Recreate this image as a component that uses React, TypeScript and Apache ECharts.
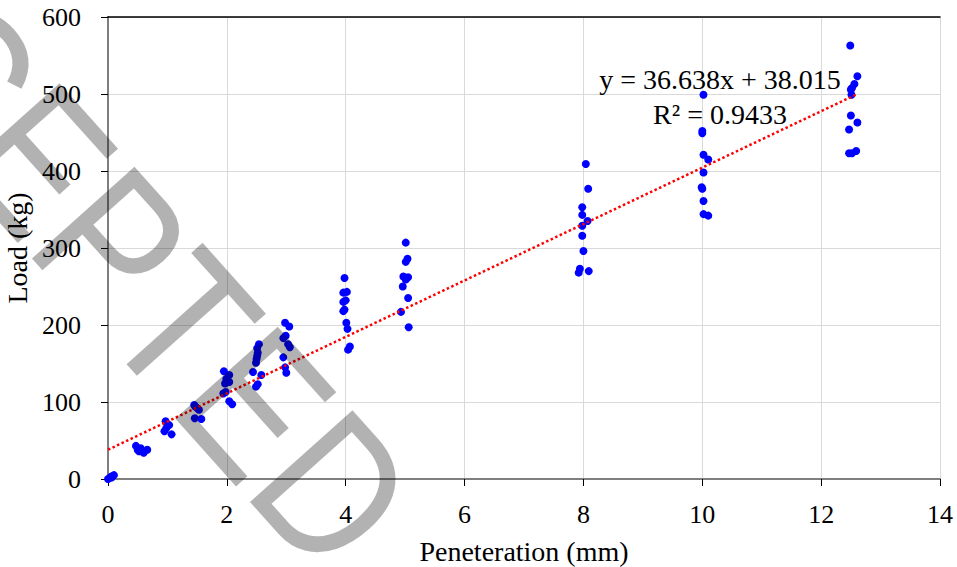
import React, { useEffect, useRef } from "react";
import * as echarts from "echarts";

// Penetration (mm) and load (kg) readings
const penetration = [
  0, 0.03, 0.05, 0.08, 0.1, 0.06,
  0.47, 0.5, 0.55, 0.6, 0.66, 0.52,
  0.97, 1.0, 0.98, 0.95, 1.07, 1.03,
  1.45, 1.5, 1.47, 1.53, 1.46, 1.57,
  1.95, 2.04, 1.99, 2.04, 1.97, 1.98, 1.94, 2.04, 2.09,
  2.54, 2.51, 2.52, 2.51, 2.5, 2.49, 2.44, 2.58, 2.52, 2.49,
  2.98, 3.05, 2.99, 2.95, 3.03, 3.06, 2.95, 2.98, 3.0,
  3.98, 3.96, 4.02, 3.96, 4.0, 3.96, 3.98, 4.01, 4.03, 4.07, 4.04,
  5.01, 5.04, 5.01, 4.97, 5.05, 5.01, 4.96, 5.05, 4.93, 5.06,
  8.04, 8.08, 7.98, 7.98, 8.07, 7.98, 7.98, 8.0, 7.94, 7.92, 8.09,
  10.02, 10.0, 10.0, 10.02, 10.1, 10.02, 9.99, 10.0, 10.02, 10.02, 10.1,
  12.49, 12.61, 12.56, 12.5, 12.52, 12.51, 12.5, 12.61, 12.47, 12.47, 12.59, 12.52,
];
const load = [
  0, 1.5, 3, 4, 5, 2,
  43, 38, 40, 34, 38, 36,
  75, 71, 66, 62, 58, 70,
  96, 92, 94, 90, 79, 78,
  140, 135, 130, 126, 124, 113, 111, 101, 97,
  175, 170, 164, 160, 156, 151, 139, 135, 123, 120,
  203, 198, 186, 183, 175, 171, 158, 145, 138,
  261, 242, 243, 230, 232, 218, 220, 203, 195, 172, 168,
  307, 286, 282, 263, 262, 259, 250, 235, 217, 197,
  409, 377, 353, 343, 335, 329, 316, 296, 273, 268, 270,
  499, 452, 449, 421, 415, 398, 379, 377, 361, 344, 342,
  563, 523, 513, 506, 508, 499, 472, 463, 454, 423, 426, 423,
];

// Linear trendline fitted in the reference
const trendSlope = 36.638;
const trendIntercept = 38.015;
const rSquared = 0.9433;
const trendRange = [0, 12.61];

const xTicks = { min: 0, max: 14, interval: 2 };
const yTicks = { min: 0, max: 600, interval: 100 };

const xTitle = "Peneteration (mm)";
const yTitle = "Load (kg)";
const watermark = "ACCEPTED";

const serif = "Liberation Serif";

export default function App() {
  const ref = useRef<HTMLDivElement>(null);

  useEffect(() => {
    if (!ref.current) return;
    const chart = echarts.init(ref.current, undefined, { renderer: "svg" });

    const points = penetration.map((x, i) => [x, load[i]]);
    const trend = trendRange.map((x) => [x, trendSlope * x + trendIntercept]);

    const eqText = `y = ${trendSlope}x + ${trendIntercept}`;
    const r2Text = `R² = ${rSquared}`;

    chart.setOption({
      animation: false,
      backgroundColor: "#ffffff",
      textStyle: { fontFamily: serif },
      grid: {
        left: 108,
        right: 17,
        top: 17,
        bottom: 88,
        containLabel: false,
        outerBoundsMode: "none",
      },
      xAxis: [
        {
          type: "value",
          min: xTicks.min,
          max: xTicks.max,
          interval: xTicks.interval,
          name: xTitle,
          nameLocation: "middle",
          nameGap: 58,
          nameTextStyle: { fontFamily: serif, fontSize: 28, color: "#000" },
          axisLine: { show: true, onZero: false, lineStyle: { color: "#7f7f7f", width: 2 } },
          axisTick: { show: true, length: 7, lineStyle: { color: "#000", width: 1 } },
          axisLabel: { fontFamily: serif, fontSize: 26, color: "#000", margin: 22 },
          splitLine: { show: true, lineStyle: { color: "#d9d9d9", width: 1 } },
        },
        {
          type: "value",
          position: "top",
          min: xTicks.min,
          max: xTicks.max,
          interval: xTicks.interval,
          axisLine: { show: true, onZero: false, lineStyle: { color: "#000", width: 1.5 } },
          axisTick: { show: false },
          axisLabel: { show: false },
          splitLine: { show: false },
        },
      ],
      yAxis: {
        type: "value",
        min: yTicks.min,
        max: yTicks.max,
        interval: yTicks.interval,
        name: yTitle,
        nameLocation: "middle",
        nameGap: 70,
        nameTextStyle: { fontFamily: serif, fontSize: 28, color: "#000" },
        axisLine: { show: true, onZero: false, lineStyle: { color: "#7f7f7f", width: 2 } },
        axisTick: { show: true, length: 7, lineStyle: { color: "#000", width: 1 } },
        axisLabel: { fontFamily: serif, fontSize: 26, color: "#000", margin: 27 },
        splitLine: { show: true, lineStyle: { color: "#d9d9d9", width: 1 } },
      },
      series: [
        {
          type: "scatter",
          xAxisIndex: 0,
          data: points,
          symbol: "circle",
          symbolSize: 8,
          itemStyle: { color: "#0000ff", opacity: 1 },
          z: 2,
        },
        {
          type: "line",
          xAxisIndex: 0,
          data: trend,
          showSymbol: false,
          symbol: "none",
          lineStyle: { color: "#ff0000", width: 2.5, type: [2.5, 2.5] },
          z: 3,
        },
      ],
      graphic: [
        {
          type: "text",
          x: 720,
          y: 79,
          z: 10,
          style: {
            text: eqText,
            fontFamily: serif,
            fontSize: 28,
            fill: "#000",
            align: "center",
            verticalAlign: "middle",
            textAlign: "center",
            textVerticalAlign: "middle",
          },
        },
        {
          type: "text",
          x: 720,
          y: 114,
          z: 10,
          style: {
            text: r2Text,
            fontFamily: serif,
            fontSize: 28,
            fill: "#000",
            align: "center",
            verticalAlign: "middle",
            textAlign: "center",
            textVerticalAlign: "middle",
          },
        },
        {
          type: "text",
          x: 68,
          y: 195,
          rotation: -0.84,
          scaleX: 0.84,
          z: 100,
          silent: true,
          style: {
            text: watermark,
            fontFamily: "Liberation Sans",
            fontSize: 200,
            fill: "rgba(0,0,0,0.3)",
            align: "center",
            verticalAlign: "middle",
            textAlign: "center",
            textVerticalAlign: "middle",
          },
        },
      ],
    });

    return () => chart.dispose();
  }, []);

  return (
    <div
      ref={ref}
      style={{ position: "absolute", left: 0, top: 0, width: 957, height: 567 }}
    />
  );
}
